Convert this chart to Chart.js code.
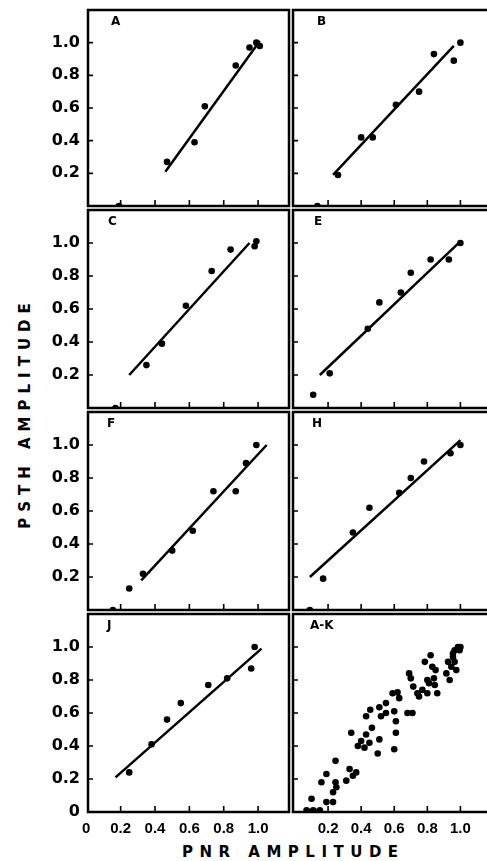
<!DOCTYPE html>
<html>
<head>
<meta charset="utf-8">
<script src="https://cdn.jsdelivr.net/npm/chart.js@4.4.1/dist/chart.umd.min.js"></script>
<style>
  body { margin: 0; background: #fff; overflow: hidden; }
  #wrap { position: relative; width: 487px; height: 861px; overflow: hidden; background: #fff; }
  .panel { position: absolute; }
  .axis-title {
    position: absolute;
    font-family: "DejaVu Sans", sans-serif;
    font-weight: bold;
    font-size: 15px;
    letter-spacing: 6.5px;
    color: #000;
    white-space: nowrap;
  }
  #xtitle { left: 182px; top: 843px; }
  #ytitle { left: 25px; top: 413px; transform: translate(-50%, -50%) rotate(-90deg); letter-spacing: 6px; }
</style>
</head>
<body>
<div id="wrap">
  <div id="ytitle" class="axis-title">PSTH AMPLITUDE</div>
  <div id="xtitle" class="axis-title">PNR AMPLITUDE</div>
</div>
<script>
// values (x = PNR amplitude, y = PSTH amplitude)
const pnrA = [0.19, 0.47, 0.63, 0.69, 0.87, 0.95, 0.99, 1.01];
const psthA = [0, 0.27, 0.39, 0.61, 0.86, 0.97, 1.0, 0.98];
const fitA_x = [0.46, 1.01];
const fitA_y = [0.21, 1.01];

const pnrB = [0.135, 0.26, 0.40, 0.47, 0.61, 0.75, 0.84, 0.96, 1.0];
const psthB = [0, 0.19, 0.42, 0.42, 0.62, 0.70, 0.93, 0.89, 1.0];
const fitB_x = [0.23, 0.96];
const fitB_y = [0.19, 0.98];

const pnrC = [0.17, 0.35, 0.44, 0.58, 0.73, 0.84, 0.98, 0.99];
const psthC = [0, 0.26, 0.39, 0.62, 0.83, 0.96, 0.98, 1.01];
const fitC_x = [0.25, 0.95];
const fitC_y = [0.2, 1.0];

const pnrE = [0.11, 0.21, 0.44, 0.51, 0.64, 0.70, 0.82, 0.93, 1.0];
const psthE = [0.08, 0.21, 0.48, 0.64, 0.70, 0.82, 0.90, 0.90, 1.0];
const fitE_x = [0.15, 1.0];
const fitE_y = [0.2, 1.01];

const pnrF = [0.155, 0.25, 0.33, 0.50, 0.62, 0.74, 0.87, 0.93, 0.99];
const psthF = [0, 0.13, 0.22, 0.36, 0.48, 0.72, 0.72, 0.89, 1.0];
const fitF_x = [0.32, 1.05];
const fitF_y = [0.18, 1.0];

const pnrH = [0.09, 0.17, 0.35, 0.45, 0.63, 0.70, 0.78, 0.94, 1.0];
const psthH = [0, 0.19, 0.47, 0.62, 0.71, 0.80, 0.90, 0.95, 1.0];
const fitH_x = [0.09, 1.0];
const fitH_y = [0.2, 1.03];

const pnrJ = [0.25, 0.38, 0.47, 0.55, 0.71, 0.82, 0.96, 0.98];
const psthJ = [0.24, 0.41, 0.56, 0.66, 0.77, 0.81, 0.87, 1.0];
const fitJ_x = [0.17, 1.02];
const fitJ_y = [0.21, 0.99];

const pnrAK = [0.07, 0.09, 0.11, 0.13, 0.15, 0.10, 0.19, 0.23, 0.16, 0.19,
  0.245, 0.245, 0.25, 0.23, 0.31, 0.33, 0.35, 0.37, 0.34, 0.38,
  0.40, 0.42, 0.43, 0.45, 0.465, 0.43, 0.455, 0.50, 0.51, 0.51,
  0.52, 0.55, 0.55, 0.60, 0.61, 0.61, 0.60, 0.59, 0.62, 0.63,
  0.68, 0.71, 0.69, 0.70, 0.715, 0.74, 0.75, 0.77, 0.785, 0.80,
  0.80, 0.82, 0.83, 0.84, 0.85, 0.845, 0.86, 0.81, 0.925, 0.915,
  0.935, 0.945, 0.955, 0.965, 0.985, 1.0, 0.975, 0.965, 0.995, 0.955];
const psthAK = [0.01, 0.0, 0.01, 0.0, 0.01, 0.08, 0.06, 0.06, 0.18, 0.23,
  0.31, 0.18, 0.15, 0.12, 0.19, 0.26, 0.22, 0.24, 0.48, 0.40,
  0.43, 0.39, 0.47, 0.42, 0.51, 0.58, 0.62, 0.355, 0.44, 0.635,
  0.58, 0.66, 0.60, 0.61, 0.55, 0.48, 0.38, 0.72, 0.725, 0.69,
  0.60, 0.60, 0.84, 0.81, 0.76, 0.72, 0.70, 0.74, 0.91, 0.80,
  0.72, 0.95, 0.88, 0.81, 0.86, 0.77, 0.72, 0.78, 0.91, 0.84,
  0.80, 0.88, 0.94, 0.98, 1.0, 1.0, 0.86, 0.91, 0.98, 0.96];

const innerTicks = [0.2, 0.4, 0.6, 0.8, 1.0];
const yTicksLeft = [0.2, 0.4, 0.6, 0.8, 1.0];
const yTicksBottomLeft = [0, 0.2, 0.4, 0.6, 0.8, 1.0];
const xTicksBottomLeft = [0, 0.2, 0.4, 0.6, 0.8, 1.0];
const xTicksBottomRight = [0.2, 0.4, 0.6, 0.8, 1.0];

const panels = [
  { label: 'A', row: 0, col: 0, x: pnrA, y: psthA, fx: fitA_x, fy: fitA_y, dx: 23 },
  { label: 'B', row: 0, col: 1, x: pnrB, y: psthB, fx: fitB_x, fy: fitB_y, dx: 24 },
  { label: 'C', row: 1, col: 0, x: pnrC, y: psthC, fx: fitC_x, fy: fitC_y, dx: 20 },
  { label: 'E', row: 1, col: 1, x: pnrE, y: psthE, fx: fitE_x, fy: fitE_y, dx: 21 },
  { label: 'F', row: 2, col: 0, x: pnrF, y: psthF, fx: fitF_x, fy: fitF_y, dx: 19 },
  { label: 'H', row: 2, col: 1, x: pnrH, y: psthH, fx: fitH_x, fy: fitH_y, dx: 19 },
  { label: 'J', row: 3, col: 0, x: pnrJ, y: psthJ, fx: fitJ_x, fy: fitJ_y, dx: 19 },
  { label: 'A-K', row: 3, col: 1, x: pnrAK, y: psthAK, fx: null, fy: null, dx: 17 },
];

const rowTop = [8, 208, 410, 612];
const rowBottom = [208, 410, 612, 812];

const framePlugin = {
  id: 'frame',
  afterDraw(chart, args, opts) {
    const ctx = chart.ctx;
    const a = chart.chartArea;
    const xs = chart.scales.x;
    const ys = chart.scales.y;
    ctx.save();
    ctx.strokeStyle = '#000';
    ctx.lineWidth = 2.5;
    ctx.strokeRect(a.left, a.top, a.right - a.left, a.bottom - a.top);
    ctx.lineWidth = 1.6;
    ctx.beginPath();
    innerTicks.forEach(v => {
      const px = xs.getPixelForValue(v);
      ctx.moveTo(px, a.bottom);
      ctx.lineTo(px, a.bottom - 6);
      const py = ys.getPixelForValue(v);
      ctx.moveTo(a.left, py);
      ctx.lineTo(a.left + 5, py);
    });
    ctx.stroke();
    ctx.fillStyle = '#000';
    ctx.font = 'bold 12px "DejaVu Sans"';
    ctx.textBaseline = 'top';
    ctx.fillText(opts.label, a.left + opts.dx, a.top + 6);
    ctx.restore();
  }
};

function toPoints(xs, ys) {
  return xs.map((v, i) => ({ x: v, y: ys[i] }));
}

const wrap = document.getElementById('wrap');

panels.forEach((p, idx) => {
  const isLeft = p.col === 0;
  const isBottom = p.row === 3;

  const div = document.createElement('div');
  div.className = 'panel';
  const top = rowTop[p.row] - 2;
  const h = rowBottom[p.row] - rowTop[p.row] + (isBottom ? 35 : 4);
  div.style.left = (isLeft ? 0 : 289) + 'px';
  div.style.top = top + 'px';
  div.style.width = (isLeft ? 293 : 230) + 'px';
  div.style.height = h + 'px';
  const canvas = document.createElement('canvas');
  canvas.id = 'chart' + idx;
  div.appendChild(canvas);
  wrap.appendChild(div);

  const datasets = [{
    data: toPoints(p.x, p.y),
    backgroundColor: '#000',
    borderColor: '#000',
    pointRadius: 3.3,
    pointBorderWidth: 0,
  }];
  if (p.fx) {
    datasets.push({
      data: toPoints(p.fx, p.fy),
      showLine: true,
      borderColor: '#000',
      borderWidth: 2.5,
      pointRadius: 0,
    });
  }

  const xTickList = isLeft ? xTicksBottomLeft : xTicksBottomRight;
  const yTickList = isBottom ? yTicksBottomLeft : yTicksLeft;

  new Chart(canvas.getContext('2d'), {
    type: 'scatter',
    data: { datasets: datasets },
    plugins: [framePlugin],
    options: {
      responsive: true,
      maintainAspectRatio: false,
      animation: false,
      layout: {
        padding: {
          left: isLeft ? 0 : 2,
          right: isLeft ? 3 : 0,
          top: 2,
          bottom: isBottom ? 0 : 2,
        }
      },
      plugins: {
        legend: { display: false },
        tooltip: { enabled: false },
        frame: { label: p.label, dx: p.dx },
      },
      scales: {
        x: {
          type: 'linear',
          min: isLeft ? 0.01 : -0.012,
          max: isLeft ? 1.18 : 1.33,
          display: isBottom,
          grid: { display: false, drawTicks: false },
          border: { display: false },
          afterBuildTicks: scale => {
            scale.ticks = xTickList.map(v => ({ value: v }));
          },
          afterFit: scale => {
            if (isBottom) scale.height = 33;
            scale.paddingLeft = 0;
            scale.paddingRight = 0;
          },
          ticks: {
            autoSkip: false,
            maxRotation: 0,
            padding: 8,
            color: '#000',
            font: { family: '"Liberation Sans", sans-serif', weight: 'bold', size: 15 },
            callback: v => v === 0 ? '0' : v.toFixed(1),
          },
        },
        y: {
          type: 'linear',
          min: 0,
          max: 1.2,
          display: isLeft,
          grid: { display: false, drawTicks: false },
          border: { display: false },
          afterBuildTicks: scale => {
            scale.ticks = yTickList.map(v => ({ value: v }));
          },
          afterFit: scale => {
            if (isLeft) scale.width = 88;
            scale.paddingTop = 0;
            scale.paddingBottom = 0;
          },
          ticks: {
            autoSkip: false,
            padding: 8,
            color: '#000',
            font: { family: '"DejaVu Sans", sans-serif', weight: 'bold', size: 16 },
            callback: v => v === 0 ? '0' : v.toFixed(1),
          },
        },
      },
    },
  });
});
</script>
</body>
</html>
